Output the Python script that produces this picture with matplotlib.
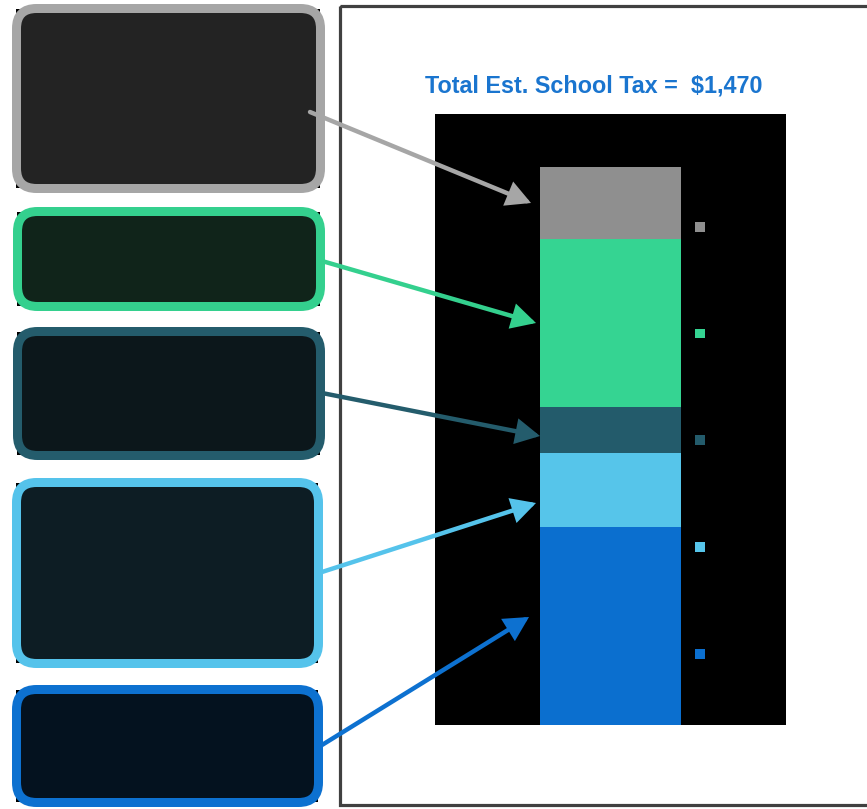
import matplotlib
matplotlib.use("Agg")
import matplotlib.pyplot as plt
from matplotlib.patches import FancyBboxPatch, Rectangle, FancyArrowPatch, Patch

# ---- data ----
segments = ["Segment 1", "Segment 2", "Segment 3", "Segment 4", "Segment 5"]  # bottom -> top
values = [523, 193, 121, 443, 190]
bar_colors = ["#0B6FCF", "#56C5EA", "#235B6B", "#35D492", "#8F8F8F"]
box_edge_colors = ["#0D71D0", "#55C3EB", "#245C6C", "#34D08E", "#A6A6A6"]
box_fill_colors = ["#04121F", "#0D1D24", "#0C171B", "#10241A", "#232323"]
title_text = "Total Est. School Tax =  $1,470"

W, H = 867, 809
fig = plt.figure(figsize=(W / 100, H / 100), dpi=100)
fig.patch.set_facecolor("white")

def px_axes(x0, y0, x1, y1):
    # pixel box (top-left origin) -> figure fraction rect
    return [x0 / W, 1 - y1 / H, (x1 - x0) / W, (y1 - y0) / H]

# ---- chart axes (black area) ----
ax = fig.add_axes(px_axes(435, 114, 786, 725))
ax.set_facecolor("black")
bottom = 0
for v, c in zip(values, bar_colors):
    ax.bar(0, v, width=0.4, bottom=bottom, color=c, linewidth=0)
    bottom += v
ax.set_xlim(-0.5, 0.5)
ax.set_ylim(0, 1610)
ax.set_xticks([])
ax.set_yticks([])
for s in ax.spines.values():
    s.set_visible(False)

handles = [Patch(facecolor=c, edgecolor="none") for c in bar_colors[::-1]]
leg = ax.legend(handles, [""] * len(handles), loc="upper left",
                bbox_to_anchor=(0.7405, 0.8255), frameon=False, fontsize=10,
                handlelength=0.7, handleheight=0.7, labelspacing=6.68,
                handletextpad=0.2, borderpad=0, borderaxespad=0)

# ---- overlay axes in pixel coordinates ----
ov = fig.add_axes([0, 0, 1, 1], zorder=5)
ov.set_xlim(0, W)
ov.set_ylim(H, 0)
ov.axis("off")
ov.patch.set_alpha(0)

# frame on the right part
ov.add_patch(Rectangle((339.5, 5.5), 600, 799.5, fill=False,
                       edgecolor="#404040", linewidth=2.3))

# rounded boxes (outer pixel bounds), top -> bottom
boxes = [(12, 4, 325, 193), (13, 207, 325, 311), (13, 327, 325, 460),
         (12, 478, 323, 668), (12, 685, 323, 807)]
edges_tb = box_edge_colors[::-1]
fills_tb = box_fill_colors[::-1]
lw_px = 9
for (x0, y0, x1, y1), ec, fc in zip(boxes, edges_tb, fills_tb):
    ov.add_patch(Rectangle((x0 + 4, y0 + 5), (x1 - x0) - 9, (y1 - y0) - 10,
                           facecolor="black", edgecolor="none"))
    h = lw_px / 2
    ov.add_patch(FancyBboxPatch((x0 + h, y0 + h), (x1 - x0) - lw_px, (y1 - y0) - lw_px,
                                boxstyle="round,pad=0,rounding_size=20",
                                facecolor=fc, edgecolor=ec, linewidth=lw_px * 0.72))

# arrows from boxes to bar segments
arrows = [((310, 112), (531, 203)), ((322, 261), (536, 323)),
          ((322, 393), (540, 436)), ((322, 572), (536, 503)),
          ((322, 745), (529, 617))]
for (p0, p1), c in zip(arrows, edges_tb):
    ov.add_patch(FancyArrowPatch(p0, p1, arrowstyle="-|>,head_length=0.85,head_width=0.45",
                                 mutation_scale=15, color=c, linewidth=3.2,
                                 shrinkA=0, shrinkB=0, joinstyle="miter"))

fig.text(594 / W, 1 - 86 / H, title_text, ha="center", va="center",
         fontsize=16.8, fontweight="bold", color="#1A75CF",
         family=["Liberation Sans", "DejaVu Sans"])

fig.savefig("out.png", dpi=100, facecolor="white")
